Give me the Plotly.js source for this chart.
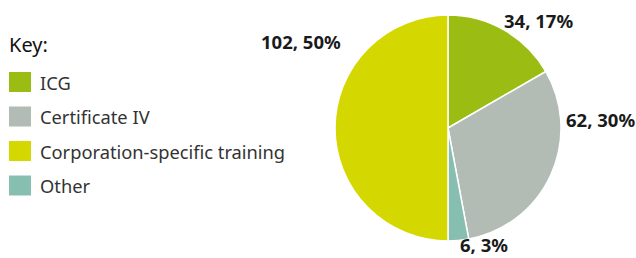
<!DOCTYPE html>
<html>
<head>
<meta charset="utf-8">
<script src="https://cdn.plot.ly/plotly-3.0.1.min.js"></script>
<style>html,body{margin:0;padding:0;background:#fff;}#chart{width:636px;height:258px;}</style>
</head>
<body>
<div id="chart"></div>
<script>
// Data
const categories = ["ICG", "Certificate IV", "Corporation-specific training", "Other"];
const values = [34, 62, 102, 6];
const colors = ["#9bbd13", "#b2bbb4", "#d4d700", "#86bfb0"];
const pieOrder = [0, 1, 3, 2]; // clockwise from 12 o'clock
const percentLabels = [17, 30, 50, 3];
const keyTitle = "Key:";

// label placement (paper pixels) per category
const labelPos = [
  {x: 538, y: 20},
  {x: 600, y: 120},
  {x: 301, y: 41},
  {x: 484, y: 244}
];

const W = 636, H = 258;
const font = "Noto Sans, Open Sans, Liberation Sans, sans-serif";

const trace = {
  type: "pie",
  labels: pieOrder.map(i => categories[i]),
  values: pieOrder.map(i => values[i]),
  marker: {colors: pieOrder.map(i => colors[i]), line: {color: "#ffffff", width: 1.5}},
  sort: false,
  direction: "clockwise",
  rotation: 0,
  textinfo: "none",
  hoverinfo: "label+value+percent",
  showlegend: false,
  domain: {x: [(448 - 113) / W, (448 + 113) / W], y: [(H - 128 - 113) / H, (H - 128 + 113) / H]}
};

const annotations = [];
const shapes = [];
annotations.push({
  text: keyTitle, xref: "paper", yref: "paper", x: 7 / W, y: 1 - 45 / H,
  xanchor: "left", yanchor: "middle", showarrow: false,
  font: {family: font, size: 20, color: "#111111"}
});
categories.forEach((c, i) => {
  const cy = 82 + i * 34.5;
  shapes.push({
    type: "rect", xref: "paper", yref: "paper",
    x0: 9 / W, x1: 31 / W, y0: 1 - (cy - 10) / H, y1: 1 - (cy + 10) / H,
    fillcolor: colors[i], line: {width: 0}
  });
  annotations.push({
    text: c, xref: "paper", yref: "paper", x: 38 / W, y: 1 - cy / H,
    xanchor: "left", yanchor: "middle", showarrow: false,
    font: {family: font, size: 18.3, color: "#333333"}
  });
  annotations.push({
    text: "<b>" + values[i] + ", " + percentLabels[i] + "%</b>",
    xref: "paper", yref: "paper", x: labelPos[i].x / W, y: 1 - labelPos[i].y / H,
    xanchor: "center", yanchor: "middle", showarrow: false,
    font: {family: font, size: 18.5, color: "#1a1a1a"}
  });
});

const layout = {
  width: W, height: H,
  margin: {l: 0, r: 0, t: 0, b: 0},
  paper_bgcolor: "#ffffff",
  plot_bgcolor: "#ffffff",
  showlegend: false,
  annotations: annotations,
  shapes: shapes,
  font: {family: font}
};

Plotly.newPlot("chart", [trace], layout, {displayModeBar: false, staticPlot: true});
</script>
</body>
</html>
